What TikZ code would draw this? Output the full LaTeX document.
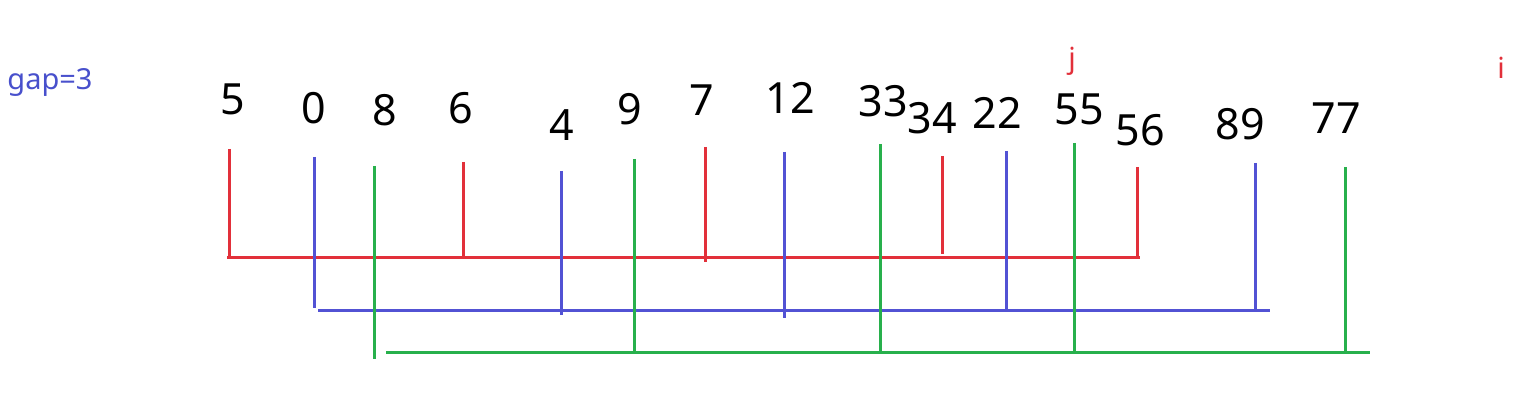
\documentclass[tikz,border=0pt]{standalone}
\usepackage{fontspec}
\newfontfamily\numfont{Noto Sans}
\definecolor{lred}{RGB}{226,48,58}
\definecolor{lblue}{RGB}{82,82,212}
\definecolor{lgreen}{RGB}{40,176,76}
\definecolor{gapblue}{RGB}{72,80,204}
\tikzset{
  num/.style={inner sep=0pt, font={\numfont\fontsize{43}{50}\selectfont}, text=black},
  ptr/.style={inner sep=0pt, font={\numfont\fontsize{29}{34}\selectfont}, text=lred},
  redline/.style={draw=lred, line width=3pt},
  blueline/.style={draw=lblue, line width=3pt},
  greenline/.style={draw=lgreen, line width=3pt}
}
\begin{document}
\begin{tikzpicture}[x=1pt,y=-1pt]
\useasboundingbox (0,0) rectangle (1532,406);
% labels
\node[inner sep=0pt, font={\numfont\fontsize{29}{34}\selectfont}, text=gapblue] (gap) at (50,82) {gap=3};
\node[ptr] (j) at (1072,61) {j};
\node[ptr] (i) at (1501,67.5) {i};
% numbers
\node[num] (n5) at (233,99) {5};
\node[num] (n0) at (314,108) {0};
\node[num] (n8) at (385,110) {8};
\node[num] (n6) at (461,108) {6};
\node[num] (n4) at (562,125) {4};
\node[num] (n9) at (630,109) {9};
\node[num] (n7) at (702,100) {7};
\node[num] (n12) at (790,98) {12};
\node[num] (n33) at (883,101) {33};
\node[num] (n34) at (932,118) {34};
\node[num] (n22) at (997,113) {22};
\node[num] (n55) at (1079,109) {55};
\node[num] (n56) at (1140,130) {56};
\node[num] (n89) at (1240,124) {89};
\node[num] (n77) at (1336,118) {77};
% red group
\coordinate (r5t) at (229,149);  \coordinate (r5b) at (229,258);
\coordinate (r6t) at (463,162);  \coordinate (r6b) at (463,258);
\coordinate (r7t) at (705,147);  \coordinate (r7b) at (705,262);
\coordinate (r34t) at (942,156); \coordinate (r34b) at (942,254);
\coordinate (r56t) at (1137,167); \coordinate (r56b) at (1137,258);
\coordinate (rl) at (227,258); \coordinate (rr) at (1140,258);
\draw[redline] (rl) -- (rr);
\foreach \k in {5,6,7,34,56} \draw[redline] (r\k t) -- (r\k b);
% blue group
\coordinate (b0t) at (314,157);  \coordinate (b0b) at (314,308);
\coordinate (b4t) at (561,171);  \coordinate (b4b) at (561,315);
\coordinate (b12t) at (784,152); \coordinate (b12b) at (784,318);
\coordinate (b22t) at (1006,151); \coordinate (b22b) at (1006,310);
\coordinate (b89t) at (1255,163); \coordinate (b89b) at (1255,310);
\coordinate (bl) at (318,310); \coordinate (br) at (1270,310);
\draw[blueline] (bl) -- (br);
\foreach \k in {0,4,12,22,89} \draw[blueline] (b\k t) -- (b\k b);
% green group
\coordinate (g8t) at (374,166);  \coordinate (g8b) at (374,359);
\coordinate (g9t) at (634,159);  \coordinate (g9b) at (634,352);
\coordinate (g33t) at (880,144); \coordinate (g33b) at (880,352);
\coordinate (g55t) at (1074,143); \coordinate (g55b) at (1074,354);
\coordinate (g77t) at (1345,167); \coordinate (g77b) at (1345,352);
\coordinate (gl) at (386,352); \coordinate (gr) at (1370,352);
\draw[greenline] (gl) -- (gr);
\foreach \k in {8,9,33,55,77} \draw[greenline] (g\k t) -- (g\k b);
\end{tikzpicture}
\end{document}
